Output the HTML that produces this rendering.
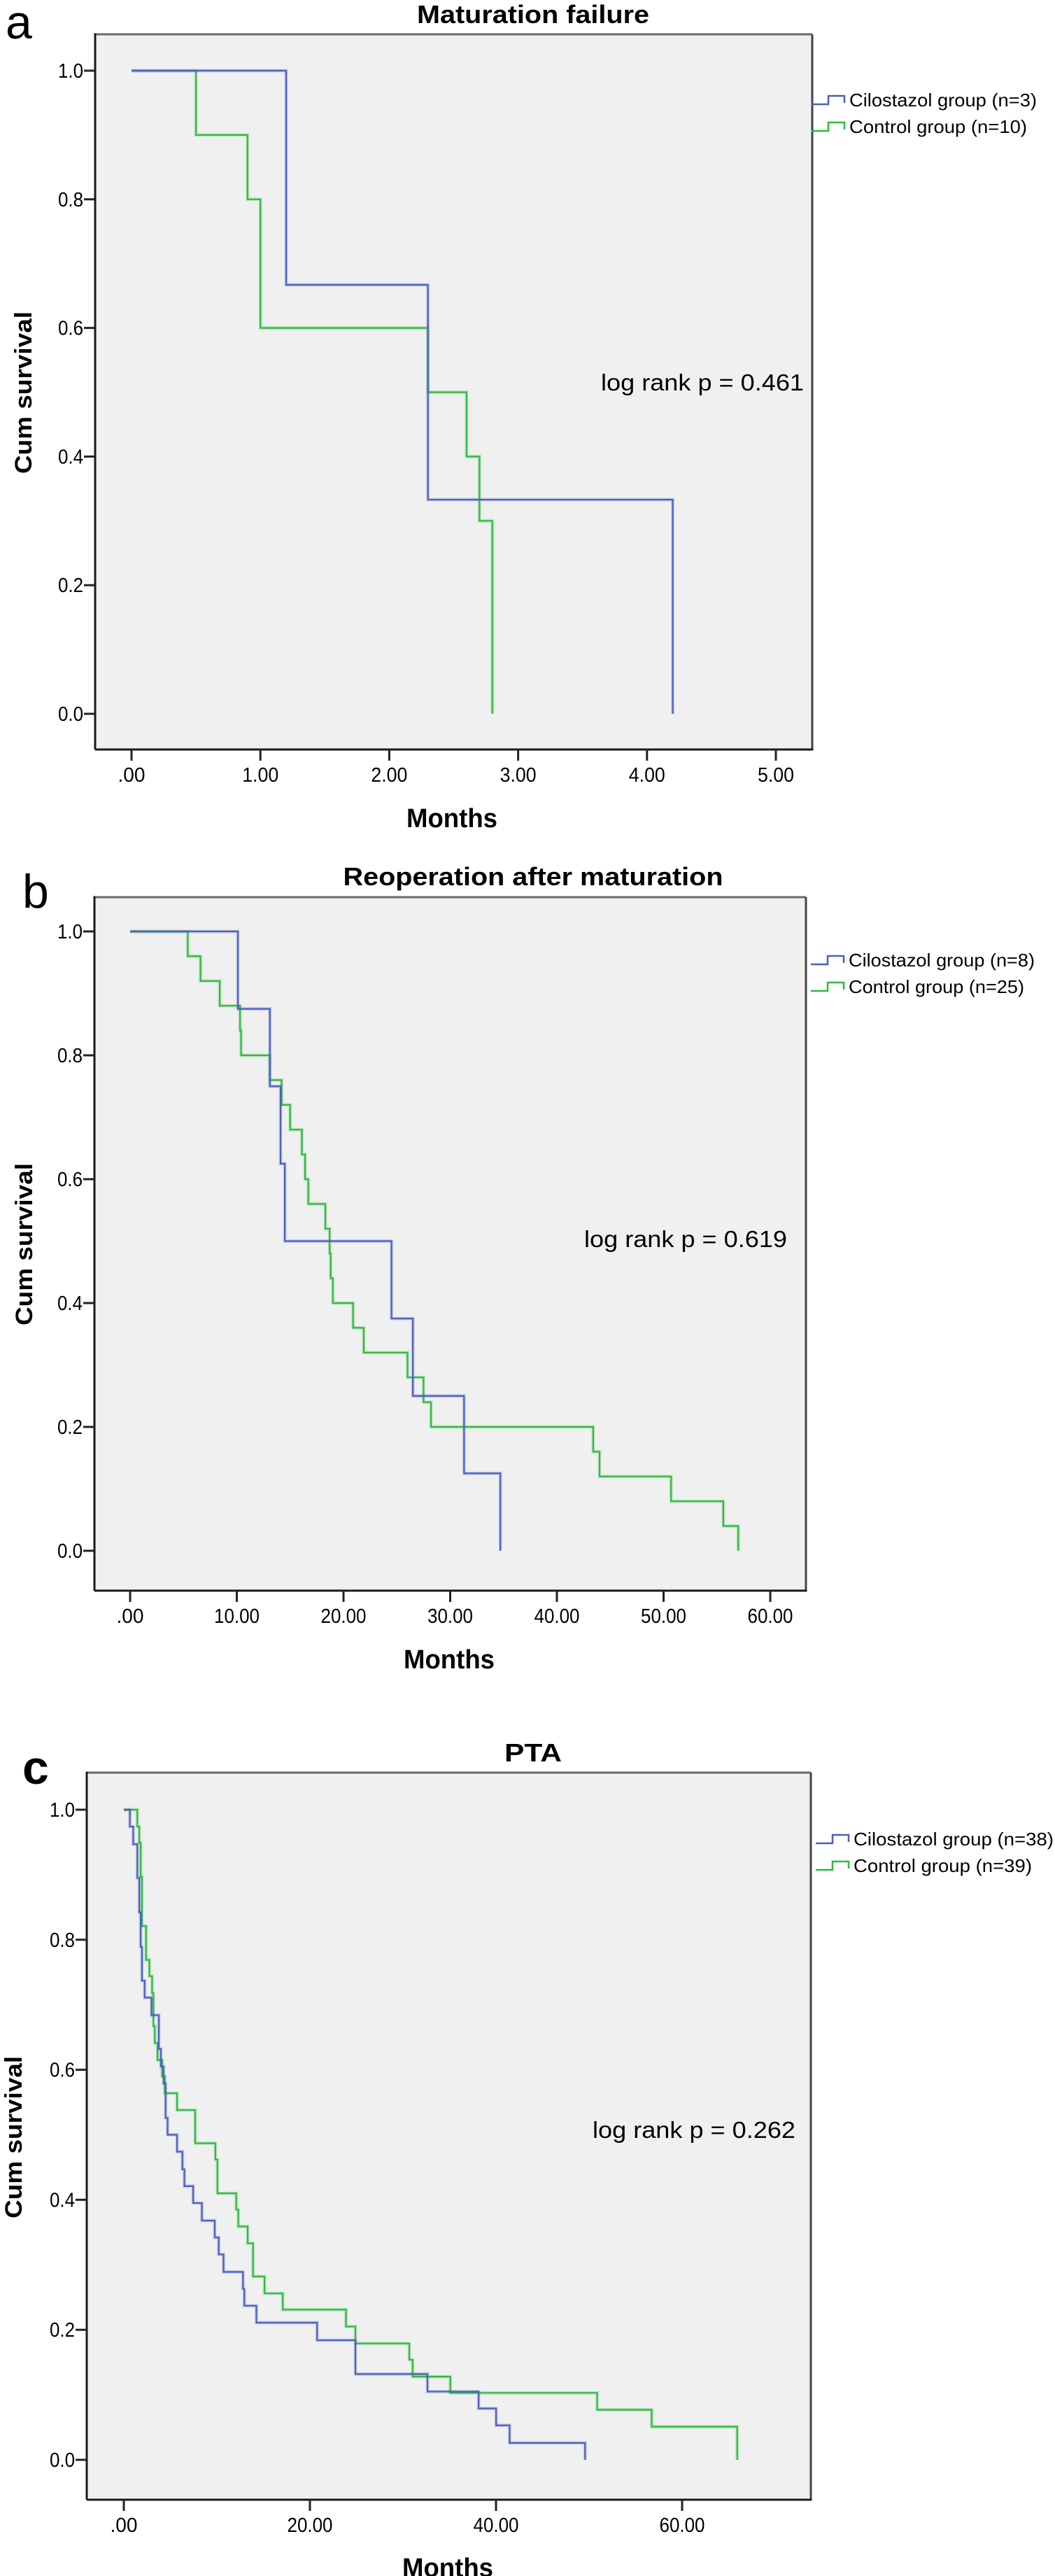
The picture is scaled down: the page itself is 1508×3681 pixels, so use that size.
<!DOCTYPE html>
<html><head><meta charset="utf-8">
<style>
html,body{margin:0;padding:0;background:#fff;}
svg{display:block;}
text{font-family:"Liberation Sans",sans-serif;fill:#000;}
</style></head>
<body>
<svg id="fig" width="1508" height="3681" viewBox="0 0 1508 3681" xmlns="http://www.w3.org/2000/svg"></svg>
<script>
// ---------- Panel a: Maturation failure ----------
const aTicksX = [0,1,2,3,4,5];
const aTickLabelsX = [".00","1.00","2.00","3.00","4.00","5.00"];
const aCiloTimes = [1.2, 2.3, 4.2];
const aCiloSurv  = [0.667, 0.333, 0.0];
const aCtrlTimes = [0.5, 0.9, 1.0, 2.3, 2.6, 2.7, 2.8];
const aCtrlSurv  = [0.9, 0.8, 0.6, 0.5, 0.4, 0.3, 0.0];
// ---------- Panel b: Reoperation after maturation ----------
const bTicksX = [0,10,20,30,40,50,60];
const bTickLabelsX = [".00","10.00","20.00","30.00","40.00","50.00","60.00"];
const bCiloTimes = [10.1, 13.1, 14.1, 14.5, 24.5, 26.5, 31.3, 34.7];
const bCiloSurv  = [0.875, 0.75, 0.625, 0.5, 0.375, 0.25, 0.125, 0.0];
const bCtrlTimes = [5.4, 6.6, 8.4, 10.3, 10.4, 13.1, 14.2, 15.0, 16.1, 16.4, 16.7, 18.3, 18.7, 18.8, 19.0, 20.9, 21.9, 26.0, 27.5, 28.2, 43.4, 44.0, 50.7, 55.6, 57.0];
const bCtrlSurv  = [0.96, 0.92, 0.88, 0.84, 0.80, 0.76, 0.72, 0.68, 0.64, 0.60, 0.56, 0.52, 0.48, 0.44, 0.40, 0.36, 0.32, 0.28, 0.24, 0.20, 0.16, 0.12, 0.08, 0.04, 0.0];
// ---------- Panel c: PTA ----------
const cTicksX = [0,20,40,60];
const cTickLabelsX = [".00","20.00","40.00","60.00"];
const cCiloTimes = [0.65,1.01,1.45,1.66,1.81,1.95,2.24,2.97,3.76,3.98,4.27,4.49,4.70,5.72,6.30,6.51,7.45,8.39,9.77,10.20,10.71,12.81,12.95,14.25,20.77,24.89,32.63,38.13,40.01,41.46,49.57];
const cCiloSurv  = [0.974,0.947,0.895,0.842,0.789,0.737,0.711,0.684,0.632,0.605,0.579,0.526,0.500,0.474,0.447,0.421,0.395,0.368,0.342,0.316,0.289,0.263,0.237,0.211,0.184,0.132,0.105,0.079,0.053,0.026,0.0];
const cCtrlTimes = [1.45,1.66,1.81,1.95,2.39,2.75,3.04,3.18,3.33,3.62,4.12,4.41,5.72,7.67,9.84,10.06,12.08,12.30,13.31,13.89,15.12,17.08,23.88,24.89,30.68,31.04,35.09,50.87,56.73,65.92];
const cCtrlSurv  = [0.974,0.949,0.897,0.821,0.769,0.744,0.718,0.667,0.641,0.615,0.590,0.564,0.538,0.487,0.462,0.410,0.385,0.359,0.333,0.282,0.256,0.231,0.205,0.179,0.154,0.128,0.103,0.077,0.051,0.0];
const yTicks = [0,0.2,0.4,0.6,0.8,1.0];
const yTickLabels = ["0.0","0.2","0.4","0.6","0.8","1.0"];

const NS = "http://www.w3.org/2000/svg";
const svg = document.getElementById("fig");
function mk(tag, attrs, parent, txt){
  const e = document.createElementNS(NS, tag);
  for (const k in attrs) e.setAttribute(k, attrs[k]);
  if (txt !== undefined) e.textContent = txt;
  (parent||svg).appendChild(e);
  return e;
}
const BLUE = "#4b5fc0", GREEN = "#2dbb3d";

function panel(P){
  const g = mk("g", {});
  
  
  const sx = v => P.x0 + (v - P.xmin) * P.pxPerUnit;
  const sy = v => P.y0 + (1 - v) * (P.y1 - P.y0) * -1 * -1 + 0; // placeholder
  const Y = v => P.y0 - v * (P.y0 - P.y1); // y0 = pixel at 0, y1 = pixel at 1
  // background & frame
  const bg = mk("rect", {x:P.L, y:P.T, width:P.R-P.L, height:P.B-P.T, fill:"#f0f0f0"}, g);
  
  
  mk("line", {x1:P.L, y1:P.T, x2:P.R, y2:P.T, stroke:"#6a6a6a", "stroke-width":3}, g);
  mk("line", {x1:P.R, y1:P.T, x2:P.R, y2:P.B, stroke:"#444", "stroke-width":3}, g);
  mk("line", {x1:P.L, y1:P.T-1.5, x2:P.L, y2:P.B, stroke:"#1a1a1a", "stroke-width":3}, g);
  mk("line", {x1:P.L, y1:P.B, x2:P.R+1.5, y2:P.B, stroke:"#1a1a1a", "stroke-width":3}, g);
  // y ticks
  yTicks.forEach((v,i)=>{
    const y = Y(v);
    mk("line", {x1:P.L-16, y1:y, x2:P.L, y2:y, stroke:"#222", "stroke-width":3}, g);
    const t = mk("text", {x:P.L-17, y:y+10, "text-anchor":"end", "font-size":29, textLength:36, lengthAdjust:"spacingAndGlyphs"}, g, yTickLabels[i]);
    
    
  });
  // x ticks
  P.ticks.forEach((v,i)=>{
    const x = sx(v);
    mk("line", {x1:x, y1:P.B, x2:x, y2:P.B+16, stroke:"#222", "stroke-width":3}, g);
    const lab = P.tickLabels[i];
    const t = mk("text", {x:x, y:P.B+46, "text-anchor":"middle", "font-size":29, textLength:lab.length*13, lengthAdjust:"spacingAndGlyphs"}, g, lab);
    
    
  });
  // curves
  function curve(times, surv, color, name){
    let d = "M" + sx(0) + " " + Y(1);
    let prev = 1;
    for (let i=0;i<times.length;i++){
      const x = sx(times[i]);
      d += " H" + x + " V" + Y(surv[i]);
      prev = surv[i];
    }
    mk("path", {d:d, fill:"none", stroke:color, "stroke-width":5, "stroke-opacity":0.25}, g);
    const p = mk("path", {d:d, fill:"none", stroke:color, "stroke-width":2.2}, g);
    
    
  }
  curve(P.ctrlT, P.ctrlS, GREEN, "control-curve");
  curve(P.ciloT, P.ciloS, BLUE, "cilostazol-curve");
  // title
  const tt = mk("text", {x:762, y:P.titleY, "text-anchor":"middle", "font-size":36, "font-weight":"bold", textLength:P.titleW, lengthAdjust:"spacingAndGlyphs"}, g, P.title);
  
  
  // panel letter
  const pl = mk("text", {x:P.letterX, y:P.letterY, "font-size":68, "font-weight":P.letterBold?"bold":"normal"}, g, P.id);
  
  
  // axis titles
  const xt = mk("text", {x:P.monthsX, y:P.monthsY, "text-anchor":"middle", "font-size":38, "font-weight":"bold", textLength:130, lengthAdjust:"spacingAndGlyphs"}, g, "Months");
  
  
  const yt = mk("text", {x:0, y:0, "text-anchor":"middle", "font-size":34, "font-weight":"bold", textLength:232, lengthAdjust:"spacingAndGlyphs", transform:"translate("+(P.cumX)+","+P.cumY+") rotate(-90)"}, g, "Cum survival");
  
  
  // log rank
  const lr = mk("text", {x:P.lrX, y:P.lrY, "font-size":33, fill:"#222", textLength:290, lengthAdjust:"spacingAndGlyphs"}, g, P.lr);
  
  
  // legend
  const entries = [[BLUE, P.leg1, P.leg1W],[GREEN, P.leg2, P.leg2W]];
  entries.forEach((en,i)=>{
    const cy = P.legY + i*38;
    const lg = mk("g", {}, g);
    
    
    const x = P.legX;
    mk("path", {d:"M"+x+" "+(cy+6)+" H"+(x+24)+" V"+(cy-6)+" H"+(x+47)+" V"+(cy+4), fill:"none", stroke:en[0], "stroke-width":2.5}, lg);
    mk("text", {x:x+54, y:cy+9, "font-size":26, textLength:en[2], lengthAdjust:"spacingAndGlyphs"}, lg, en[1]);
  });
}

panel({id:"a", L:136, R:1161, T:49, B:1071, x0:188, xmin:0, pxPerUnit:184.2, y0:1020, y1:101,
  ticks:aTicksX, tickLabels:aTickLabelsX, ciloT:aCiloTimes, ciloS:aCiloSurv, ctrlT:aCtrlTimes, ctrlS:aCtrlSurv,
  title:"Maturation failure", titleY:33, titleW:332, letterX:8, letterY:55, letterBold:false,
  monthsX:646, monthsY:1182, cumX:45, cumY:561, lr:"log rank p = 0.461", lrX:859, lrY:558,
  legX:1160, legY:143, leg1:"Cilostazol group (n=3)", leg1W:268, leg2:"Control group (n=10)", leg2W:254});

panel({id:"b", L:135, R:1152, T:1282, B:2273, x0:186, xmin:0, pxPerUnit:15.25, y0:2216, y1:1331,
  ticks:bTicksX, tickLabels:bTickLabelsX, ciloT:bCiloTimes, ciloS:bCiloSurv, ctrlT:bCtrlTimes, ctrlS:bCtrlSurv,
  title:"Reoperation after maturation", titleY:1265, titleW:543, letterX:32, letterY:1297, letterBold:false,
  monthsX:642, monthsY:2384, cumX:46, cumY:1778, lr:"log rank p = 0.619", lrX:835, lrY:1782,
  legX:1159, legY:1372, leg1:"Cilostazol group (n=8)", leg1W:266, leg2:"Control group (n=25)", leg2W:251});

panel({id:"c", L:124, R:1159, T:2533, B:3572, x0:177, xmin:0, pxPerUnit:13.3, y0:3515, y1:2586,
  ticks:cTicksX, tickLabels:cTickLabelsX, ciloT:cCiloTimes, ciloS:cCiloSurv, ctrlT:cCtrlTimes, ctrlS:cCtrlSurv,
  title:"PTA", titleY:2517, titleW:82, letterX:32, letterY:2549, letterBold:true,
  monthsX:640, monthsY:3682, cumX:31, cumY:3054, lr:"log rank p = 0.262", lrX:847, lrY:3055,
  legX:1166, legY:2628, leg1:"Cilostazol group (n=38)", leg1W:286, leg2:"Control group (n=39)", leg2W:255});
</script>
</body></html>
